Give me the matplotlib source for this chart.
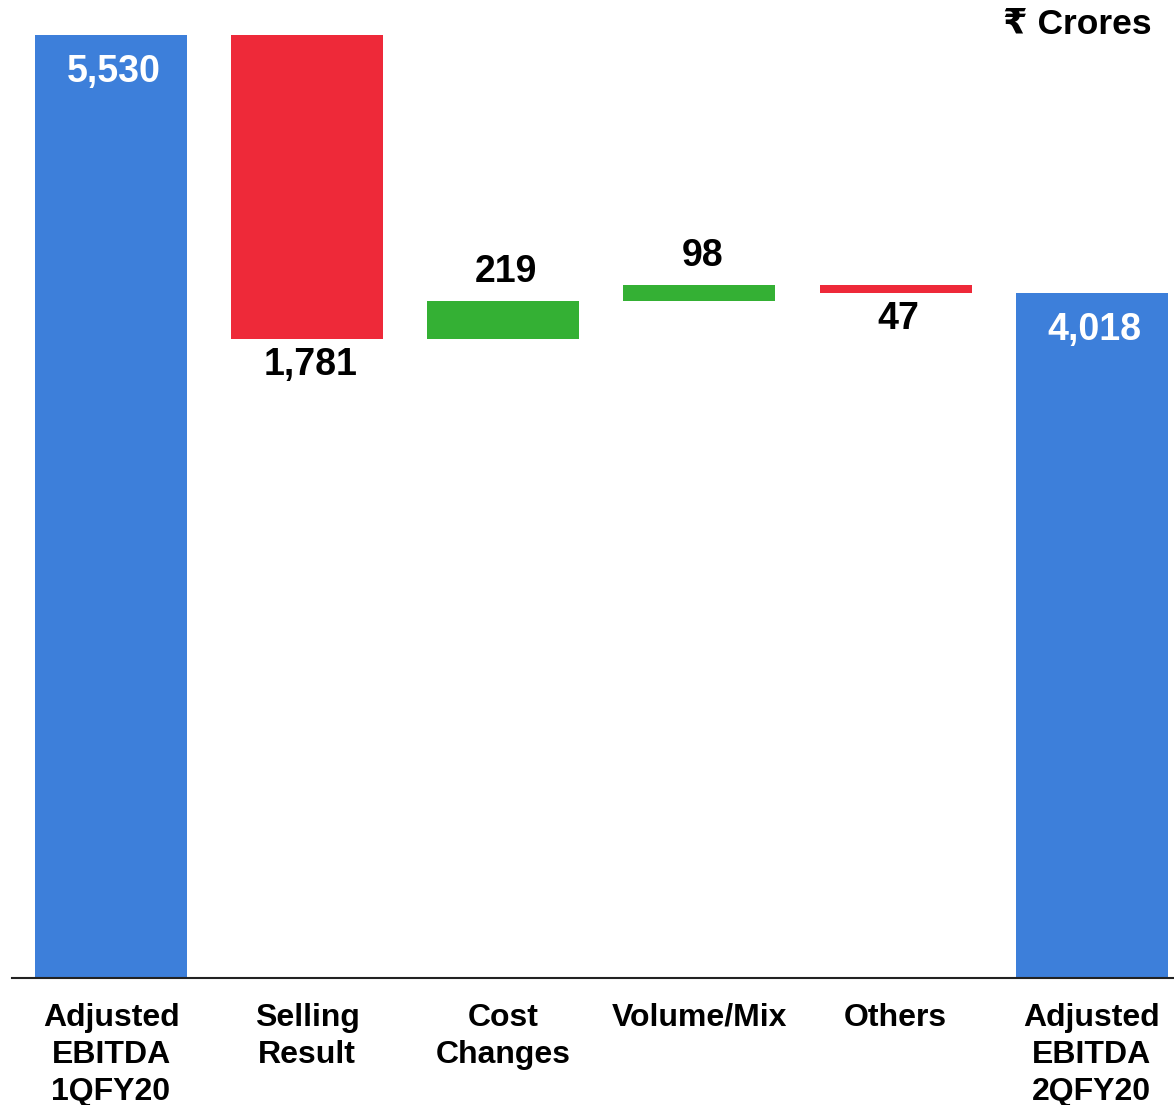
import matplotlib.pyplot as plt

plt.rcParams['font.family'] = ['Liberation Sans', 'DejaVu Sans']
plt.rcParams['font.weight'] = 'bold'

# Data
categories = ["Adjusted\nEBITDA\n1QFY20", "Selling\nResult", "Cost\nChanges",
              "Volume/Mix", "Others", "Adjusted\nEBITDA\n2QFY20"]
changes = [5530, -1781, 219, 98, -47, 4018]
labels = ["5,530", "1,781", "219", "98", "47", "4,018"]
is_total = [True, False, False, False, False, True]

BLUE = "#3D7FDA"
RED = "#EE2939"
GREEN = "#34B034"

# bottoms / heights for waterfall
bottoms, heights, colors = [], [], []
running = 0
for val, tot in zip(changes, is_total):
    if tot:
        bottoms.append(0)
        heights.append(val)
        colors.append(BLUE)
        running = val
    else:
        if val >= 0:
            bottoms.append(running)
            colors.append(GREEN)
        else:
            bottoms.append(running + val)
            colors.append(RED)
        heights.append(abs(val))
        running += val

fig = plt.figure(figsize=(11.74, 11.05), dpi=100)
ax = fig.add_axes([12 / 1174, 127 / 1105, 1 - 12 / 1174, 978 / 1105])

x = list(range(len(categories)))
ax.bar(x, heights, bottom=bottoms, color=colors, width=0.775)

ax.set_xlim(-0.505, 5.42)
ax.set_ylim(0, 5735)

# value labels (slightly right of bar centre, as in the original)
dx = 3 * 0.72
for i, (val, tot) in enumerate(zip(changes, is_total)):
    top = bottoms[i] + heights[i]
    if tot:
        ax.annotate(labels[i], (i, top), xytext=(dx, -37 * 0.72), textcoords="offset points",
                    ha="center", va="center", color="white", fontsize=27, fontweight="bold")
    elif val >= 0:
        ax.annotate(labels[i], (i, top), xytext=(dx, 29 * 0.72), textcoords="offset points",
                    ha="center", va="center", color="black", fontsize=27, fontweight="bold")
    else:
        ax.annotate(labels[i], (i, bottoms[i]), xytext=(dx, -26 * 0.72), textcoords="offset points",
                    ha="center", va="center", color="black", fontsize=27, fontweight="bold")

ax.set_xticks(x)
ax.set_xticklabels(categories, fontsize=23, fontweight="bold", linespacing=1.31)
ax.tick_params(axis="x", length=0, pad=18)
ax.set_yticks([])

for side in ["top", "right", "left"]:
    ax.spines[side].set_visible(False)
ax.spines["bottom"].set_linewidth(1.5)
ax.spines["bottom"].set_color("#222222")

fig.text(1152 / 1174, 1 - 24 / 1105, "₹ Crores", ha="right", va="center",
         fontsize=25.5, fontweight="bold", family=['Liberation Sans', 'DejaVu Sans'])

fig.savefig("out.png", dpi=100)
